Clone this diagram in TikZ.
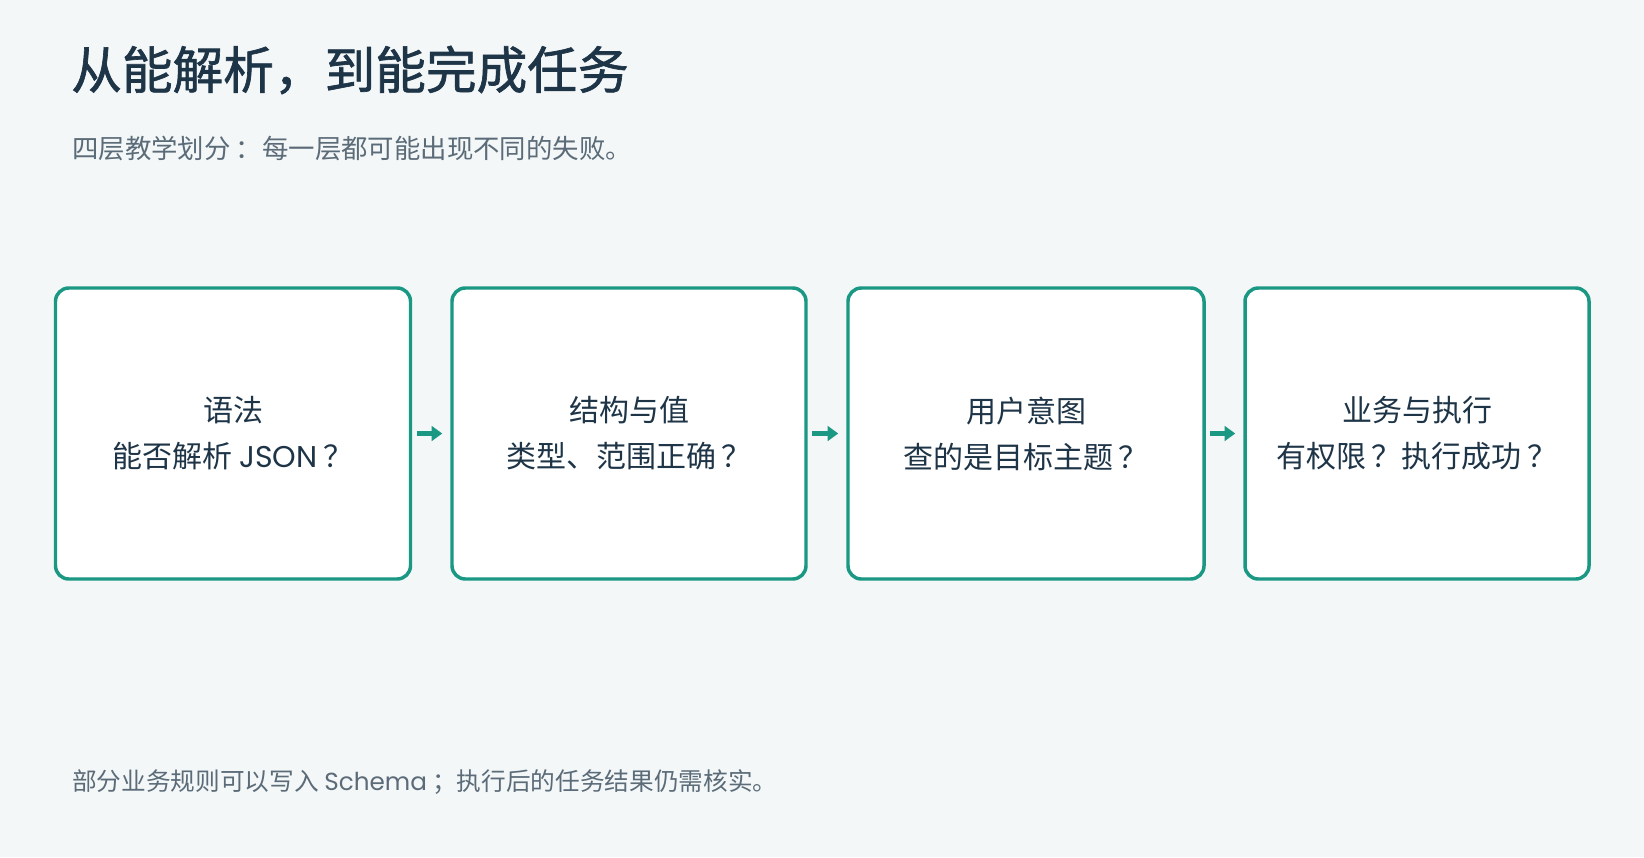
\documentclass[tikz,border=0pt]{standalone}
\usepackage{fontspec}
\setmainfont{Noto Sans CJK SC}
\newfontfamily\titlefont[FakeBold=1.3]{Noto Sans CJK SC}
\newfontfamily\latfont{Poppins}
\usetikzlibrary{arrows.meta}
\definecolor{bgc}{HTML}{F3F7F8}
\definecolor{teal}{HTML}{1A9883}
\definecolor{ink}{HTML}{1E3447}
\definecolor{subc}{HTML}{5B6B78}
\newcommand{\qm}{\kern0.2em？}
\tikzset{
  stagebox/.style={draw=teal, line width=2.6pt, fill=white, rounded corners=10pt,
    minimum height=291*0.75pt, inner sep=0pt, align=center, text=ink,
    font=\fontsize{22.5}{34.5}\selectfont},
  flow/.style={draw=teal, line width=3.4pt, -{Triangle[length=8pt,width=11pt]},
    shorten <=3.5pt, shorten >=6pt},
  plain/.style={anchor=west, inner sep=0pt}
}
\begin{document}
\begin{tikzpicture}[x=0.75pt,y=-0.75pt]
\fill[bgc] (0,0) rectangle (1644,857);
\useasboundingbox (0,0) rectangle (1644,857);
\node[plain, text=ink, font=\fontsize{38}{44}\selectfont\titlefont] (title) at (71,70) {从能解析，到能完成任务};
\node[plain, text=subc, font=\fontsize{19.8}{24}\selectfont] (sub) at (72,148) {四层教学划分\kern0.2em：每一层都可能出现不同的失败。};
\node[stagebox, minimum width=355*0.75pt] (b1) at (233,433.5) {语法\\能否解析 {\latfont JSON}\qm};
\node[stagebox, minimum width=354*0.75pt] (b2) at (629,433.5) {结构与值\\类型、范围正确\qm};
\node[stagebox, minimum width=356*0.75pt] (b3) at (1026,433.5) {用户意图\\查的是目标主题\qm};
\node[stagebox, minimum width=344*0.75pt] (b4) at (1417,433.5) {业务与执行\\有权限\qm 执行成功\qm};
\draw[flow] (b1.east) -- (b2.west);
\draw[flow] (b2.east) -- (b3.west);
\draw[flow] (b3.east) -- (b4.west);
\node[plain, text=subc, font=\fontsize{18.5}{24}\selectfont] (foot) at (72,782) {部分业务规则可以写入 {\latfont Schema}\kern0.2em；执行后的任务结果仍需核实。};
\end{tikzpicture}
\end{document}
